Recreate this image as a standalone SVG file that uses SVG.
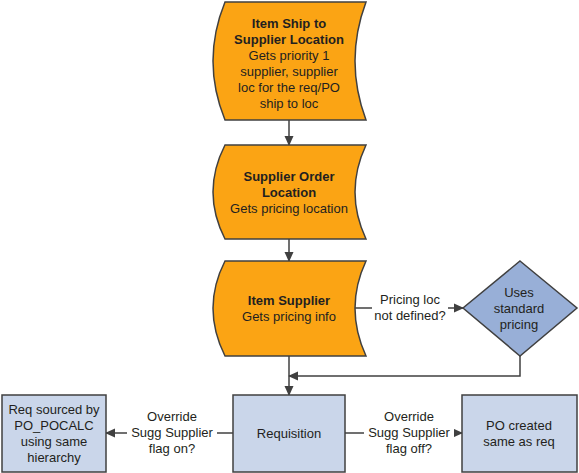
<svg xmlns="http://www.w3.org/2000/svg" width="579" height="473" viewBox="0 0 579 473">
<style>
text{font-family:"Liberation Sans",Arial,sans-serif;font-size:13px;fill:#231f20;text-anchor:middle}
.b{font-weight:bold}
.or{fill:#FBA414;stroke:#404040;stroke-width:1.5}
.bl{fill:#CAD6EA;stroke:#404040;stroke-width:1.5}
.dm{fill:#98AFD7;stroke:#404040;stroke-width:1.5}
.ln{fill:none;stroke:#404040;stroke-width:1.5}
.lbl{fill:#fff}
</style>
<defs>
<marker id="ah" markerWidth="10" markerHeight="10" refX="9" refY="5" orient="auto" markerUnits="userSpaceOnUse">
<path d="M0,0.5 L10,5 L0,9.5 Z" fill="#404040"/>
</marker>
</defs>
<rect width="579" height="473" fill="#fff"/>
<g id="connectors">
<path class="ln" d="M289,120 V145" marker-end="url(#ah)"/>
<path class="ln" d="M289,239 V261" marker-end="url(#ah)"/>
<path class="ln" d="M289,356 V395" marker-end="url(#ah)"/>
<path class="ln" d="M355,308 H463" marker-end="url(#ah)"/>
<path class="ln" d="M520,356 V376 H289" marker-end="url(#ah)"/>
<path class="ln" d="M233,433 H106" marker-end="url(#ah)"/>
<path class="ln" d="M345,433 H462" marker-end="url(#ah)"/>
<rect class="lbl" x="372" y="290" width="76" height="32"/>
<text x="410" y="304">Pricing loc</text>
<text x="410" y="320">not defined?</text>
<rect class="lbl" x="127" y="406" width="90" height="50"/>
<text x="172" y="421">Override</text>
<text x="172" y="437">Sugg Supplier</text>
<text x="172" y="453">flag on?</text>
<rect class="lbl" x="364" y="406" width="90" height="50"/>
<text x="409" y="421">Override</text>
<text x="409" y="437">Sugg Supplier</text>
<text x="409" y="453">flag off?</text>
</g>
<g id="n1">
<path class="or" d="M225,2 H366 Q344,61 366,120 H225 Q201,61 225,2 Z"/>
<text class="b" x="289" y="28">Item Ship to</text>
<text class="b" x="289" y="44">Supplier Location</text>
<text x="289" y="60">Gets priority 1</text>
<text x="289" y="76">supplier, supplier</text>
<text x="289" y="92">loc for the req/PO</text>
<text x="289" y="108">ship to loc</text>
</g>
<g id="n2">
<path class="or" d="M225,145 H366 Q344,192 366,239 H225 Q201,192 225,145 Z"/>
<text class="b" x="289" y="181">Supplier Order</text>
<text class="b" x="289" y="197">Location</text>
<text x="289" y="213">Gets pricing location</text>
</g>
<g id="n3">
<path class="or" d="M225,261 H366 Q344,308 366,356 H225 Q201,308 225,261 Z"/>
<text class="b" x="289" y="305">Item Supplier</text>
<text x="289" y="321">Gets pricing info</text>
</g>
<g id="n4">
<path class="dm" d="M520,261 L577,308 L520,356 L463,308 Z"/>
<text x="519" y="297">Uses</text>
<text x="519" y="313">standard</text>
<text x="519" y="329">pricing</text>
</g>
<g id="n5">
<rect class="bl" x="2" y="395" width="104" height="77"/>
<text x="54" y="414">Req sourced by</text>
<text x="54" y="430">PO_POCALC</text>
<text x="54" y="446">using same</text>
<text x="54" y="462">hierarchy</text>
</g>
<g id="n6">
<rect class="bl" x="233" y="395" width="112" height="77"/>
<text x="289" y="438">Requisition</text>
</g>
<g id="n7">
<rect class="bl" x="462" y="395" width="115" height="77"/>
<text x="519" y="430">PO created</text>
<text x="519" y="446">same as req</text>
</g>
</svg>
